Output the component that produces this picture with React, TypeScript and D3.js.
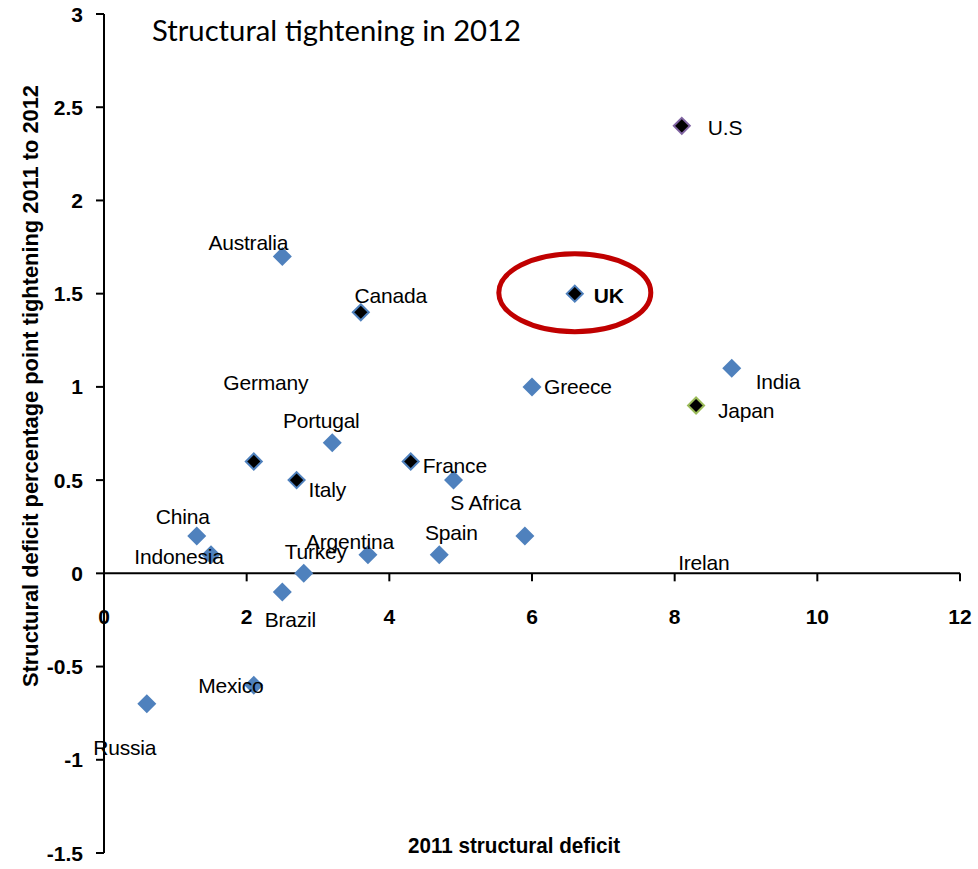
import React from "react";
import * as d3 from "d3";

const countries = ["U.S", "UK", "Australia", "Canada", "Greece", "India", "Japan", "Portugal", "Germany", "Italy", "France", "S Africa", "China", "Indonesia", "Spain", "Argentina", "Turkey", "Brazil", "Irelan", "Mexico", "Russia"];
const deficit2011 = [8.1, 6.6, 2.5, 3.6, 6.0, 8.8, 8.3, 3.2, 2.1, 2.7, 4.3, 4.9, 1.3, 1.5, 4.7, 3.7, 2.8, 2.5, 5.9, 2.1, 0.6];
const tightening = [2.4, 1.5, 1.7, 1.4, 1.0, 1.1, 0.9, 0.7, 0.6, 0.5, 0.6, 0.5, 0.2, 0.1, 0.1, 0.1, 0.0, -0.1, 0.2, -0.6, -0.7];
const markerKind = ["purple", "blue", "plain", "blue", "plain", "plain", "green", "plain", "blue", "blue", "blue", "plain", "plain", "plain", "plain", "plain", "plain", "plain", "plain", "plain", "plain"];
// label offsets (px) and anchors
const labelDx = [26, 19, -34, 30, 12, 24, 22, -11, 12, 12, 12, 32, -14, -32, 12, -18, 12, 8, 179, -23, -22];
const labelDy = [2, 2, -14, -17, 0, 13, 5, -22, -79, 9, 4, 22, -20, 2, -22, -13, -22, 27, 26, 0, 44];
const labelAnchor = ["start", "start", "middle", "middle", "start", "start", "start", "middle", "middle", "start", "start", "middle", "middle", "middle", "middle", "middle", "middle", "middle", "middle", "middle", "middle"];

const xTicks = [0, 2, 4, 6, 8, 10, 12];
const yTicks = [3, 2.5, 2, 1.5, 1, 0.5, 0, -0.5, -1, -1.5];

const title = "Structural tightening in 2012";
const xTitle = "2011 structural deficit";
const yTitle = "Structural deficit percentage point  tightening 2011 to 2012";

export default function App() {
  const x = d3.scaleLinear().domain([0, 12]).range([104, 960]);
  const y = d3.scaleLinear().domain([-1.5, 3]).range([853, 14]);
  const diamond = (cx: number, cy: number, r: number) =>
    `M${cx},${cy - r}L${cx + r},${cy}L${cx},${cy + r}L${cx - r},${cy}Z`;
  const borderColor: Record<string, string> = { blue: "#4F81BD", purple: "#8064A2", green: "#9BBB59" };
  const ukIdx = countries.indexOf("UK");
  const font = "'Liberation Sans', Arial, sans-serif";

  return (
    <svg width={978} height={869} style={{ position: "absolute", left: 0, top: 0, background: "#fff" }} fontFamily={font}>
      <rect width={978} height={869} fill="#fff" />
      {/* axes */}
      <line x1={x(0)} x2={x(0)} y1={y(3)} y2={y(-1.5)} stroke="#000" strokeWidth={2} />
      <line x1={x(0)} x2={x(12)} y1={y(0)} y2={y(0)} stroke="#000" strokeWidth={2} />
      {yTicks.map((t) => (
        <g key={"yt" + t}>
          <line x1={x(0) - 8} x2={x(0)} y1={y(t)} y2={y(t)} stroke="#000" strokeWidth={2} />
          <text x={83} y={y(t)} dy="0.36em" textAnchor="end" fontWeight="bold" fontSize={21}>{t}</text>
        </g>
      ))}
      {xTicks.map((t) => (
        <g key={"xt" + t}>
          <line x1={x(t)} x2={x(t)} y1={y(0)} y2={y(0) + 8} stroke="#000" strokeWidth={2} />
          <text x={x(t)} y={616} dy="0.36em" textAnchor="middle" fontWeight="bold" fontSize={21}>{t}</text>
        </g>
      ))}
      {/* titles */}
      <text x={152} y={41} fontFamily="Lato, 'Open Sans', sans-serif" fontSize={28} textLength={369} lengthAdjust="spacingAndGlyphs">{title}</text>
      <text x={408} y={845} dy="0.36em" fontWeight="bold" fontSize={22} textLength={212} lengthAdjust="spacingAndGlyphs">{xTitle}</text>
      <text transform={`translate(30,687) rotate(-90)`} dy="0.36em" fontWeight="bold" fontSize={22} textLength={602} lengthAdjust="spacingAndGlyphs">{yTitle}</text>
      {/* UK highlight */}
      <ellipse cx={x(deficit2011[ukIdx])} cy={y(tightening[ukIdx]) - 1} rx={76} ry={39} fill="none" stroke="#C00000" strokeWidth={5} />
      {/* points */}
      {countries.map((c, i) => {
        const cx = x(deficit2011[i]);
        const cy = y(tightening[i]);
        const k = markerKind[i];
        return k === "plain" ? (
          <path key={"p" + c} d={diamond(cx, cy, 9.5)} fill="#4F81BD" />
        ) : (
          <path key={"p" + c} d={diamond(cx, cy, 8)} fill="#000" stroke={borderColor[k]} strokeWidth={2} />
        );
      })}
      {/* labels */}
      {countries.map((c, i) => (
        <text
          key={"l" + c}
          x={x(deficit2011[i]) + labelDx[i]}
          y={y(tightening[i]) + labelDy[i]}
          dy="0.36em"
          textAnchor={labelAnchor[i] as any}
          fontSize={21}
          fontWeight={c === "UK" ? "bold" : "normal"}
          letterSpacing={-0.2}
        >
          {c}
        </text>
      ))}
    </svg>
  );
}
